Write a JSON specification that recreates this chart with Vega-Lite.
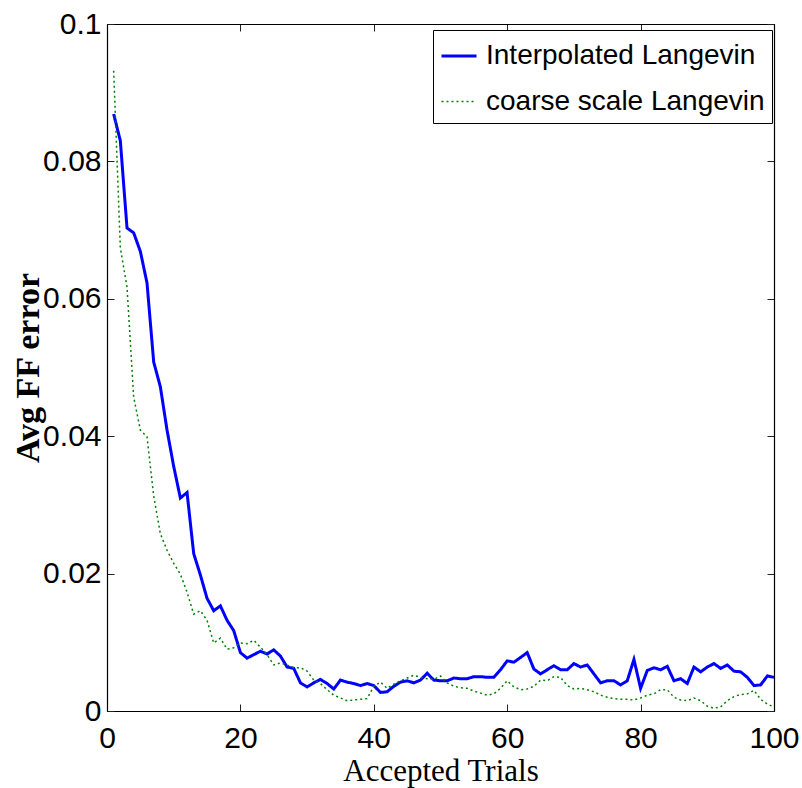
{
  "$schema": "https://vega.github.io/schema/vega-lite/v6.json",
  "width": 667,
  "height": 687,
  "autosize": {"type": "none"},
  "padding": {"left": 107, "top": 24, "right": 28, "bottom": 77},
  "background": "white",
  "config": {
    "view": {"stroke": "black", "strokeWidth": 1},
    "axis": {
      "grid": false,
      "domainColor": "black",
      "domainWidth": 1.2,
      "tickColor": "#222",
      "tickWidth": 1,
      "tickSize": -7,
      "labelFont": "Liberation Sans",
      "labelFontSize": 30,
      "labelColor": "black",
      "titleColor": "black",
      "titleFont": "Liberation Serif",
      "titleFontWeight": "normal"
    },
    "legend": {
      "title": null, "orient": "none", "legendX": 326, "legendY": 6, "symbolType": "stroke", "symbolSize": 1225,
      "labelFont": "Liberation Sans", "labelFontSize": 28, "labelColor": "black", "labelLimit": 400, "labelOffset": 8,
      "rowPadding": 13, "padding": 7, "strokeColor": "black", "fillColor": "white"
    }
  },
  "data": {
    "values": [
      {"x":1,"a":0.0869,"b":0.0932},{"x":2,"a":0.083,"b":0.0674},{"x":3,"a":0.0703,"b":0.0617},{"x":4,"a":0.0696,"b":0.0457},{"x":5,"a":0.0669,"b":0.0409},
      {"x":6,"a":0.0623,"b":0.0399},{"x":7,"a":0.0508,"b":0.0313},{"x":8,"a":0.0472,"b":0.0258},{"x":9,"a":0.0409,"b":0.0234},{"x":10,"a":0.0356,"b":0.0215},
      {"x":11,"a":0.031,"b":0.0199},{"x":12,"a":0.0318,"b":0.0173},{"x":13,"a":0.0229,"b":0.0141},{"x":14,"a":0.0198,"b":0.0146},{"x":15,"a":0.0164,"b":0.0132},
      {"x":16,"a":0.0146,"b":0.0099},{"x":17,"a":0.0153,"b":0.0106},{"x":18,"a":0.0132,"b":0.009},{"x":19,"a":0.0117,"b":0.0092},{"x":20,"a":0.0085,"b":0.0099},
      {"x":21,"a":0.0077,"b":0.0098},{"x":22,"a":0.0082,"b":0.0103},{"x":23,"a":0.0087,"b":0.0093},{"x":24,"a":0.0083,"b":0.0082},{"x":25,"a":0.0089,"b":0.0067},
      {"x":26,"a":0.008,"b":0.007},{"x":27,"a":0.0064,"b":0.0067},{"x":28,"a":0.0062,"b":0.0063},{"x":29,"a":0.0041,"b":0.0063},{"x":30,"a":0.0035,"b":0.0058},
      {"x":31,"a":0.0041,"b":0.0045},{"x":32,"a":0.0046,"b":0.004},{"x":33,"a":0.004,"b":0.0031},{"x":34,"a":0.0032,"b":0.0023},{"x":35,"a":0.0045,"b":0.0019},
      {"x":36,"a":0.0042,"b":0.0015},{"x":37,"a":0.004,"b":0.0016},{"x":38,"a":0.0037,"b":0.0017},{"x":39,"a":0.004,"b":0.0018},{"x":40,"a":0.0037,"b":0.0036},
      {"x":41,"a":0.0027,"b":0.0042},{"x":42,"a":0.0028,"b":0.0033},{"x":43,"a":0.0036,"b":0.0039},{"x":44,"a":0.0042,"b":0.0044},{"x":45,"a":0.0044,"b":0.0048},
      {"x":46,"a":0.0041,"b":0.0052},{"x":47,"a":0.0045,"b":0.0049},{"x":48,"a":0.0055,"b":0.0047},{"x":49,"a":0.0045,"b":0.0046},{"x":50,"a":0.0044,"b":0.0051},
      {"x":51,"a":0.0044,"b":0.0041},{"x":52,"a":0.0048,"b":0.0036},{"x":53,"a":0.0047,"b":0.0034},{"x":54,"a":0.0047,"b":0.0033},{"x":55,"a":0.005,"b":0.0029},
      {"x":56,"a":0.005,"b":0.0026},{"x":57,"a":0.0049,"b":0.0023},{"x":58,"a":0.0049,"b":0.0025},{"x":59,"a":0.006,"b":0.0033},{"x":60,"a":0.0073,"b":0.0044},
      {"x":61,"a":0.0071,"b":0.0035},{"x":62,"a":0.0078,"b":0.0031},{"x":63,"a":0.0085,"b":0.0032},{"x":64,"a":0.0061,"b":0.0036},{"x":65,"a":0.0054,"b":0.0045},
      {"x":66,"a":0.006,"b":0.0044},{"x":67,"a":0.0066,"b":0.005},{"x":68,"a":0.006,"b":0.0049},{"x":69,"a":0.006,"b":0.0037},{"x":70,"a":0.0069,"b":0.0032},
      {"x":71,"a":0.0064,"b":0.0033},{"x":72,"a":0.0067,"b":0.0031},{"x":73,"a":0.0054,"b":0.0028},{"x":74,"a":0.0041,"b":0.0023},{"x":75,"a":0.0044,"b":0.002},
      {"x":76,"a":0.0044,"b":0.0018},{"x":77,"a":0.0038,"b":0.0017},{"x":78,"a":0.0044,"b":0.0017},{"x":79,"a":0.0075,"b":0.0016},{"x":80,"a":0.0033,"b":0.0019},
      {"x":81,"a":0.0059,"b":0.0023},{"x":82,"a":0.0063,"b":0.0025},{"x":83,"a":0.006,"b":0.0031},{"x":84,"a":0.0065,"b":0.0031},{"x":85,"a":0.0044,"b":0.002},
      {"x":86,"a":0.0047,"b":0.0016},{"x":87,"a":0.004,"b":0.0015},{"x":88,"a":0.0064,"b":0.0019},{"x":89,"a":0.0057,"b":0.0015},{"x":90,"a":0.0064,"b":0.0007},
      {"x":91,"a":0.0069,"b":0.0004},{"x":92,"a":0.0062,"b":0.0006},{"x":93,"a":0.0067,"b":0.0015},{"x":94,"a":0.0058,"b":0.0021},{"x":95,"a":0.0057,"b":0.0024},
      {"x":96,"a":0.0049,"b":0.0025},{"x":97,"a":0.0037,"b":0.003},{"x":98,"a":0.0038,"b":0.0017},{"x":99,"a":0.0051,"b":0.001},{"x":100,"a":0.0049,"b":0.0006}
    ]
  },
  "transform": [
    {"fold": ["a", "b"], "as": ["key", "v"]},
    {"calculate": "datum.key === 'a' ? 'Interpolated Langevin' : 'coarse scale Langevin'", "as": "series"}
  ],
  "layer": [
    {
      "mark": {"type": "line", "clip": true},
      "encoding": {
        "x": {"field": "x", "type": "quantitative", "scale": {"domain": [0, 100], "nice": false},
          "axis": {"orient": "bottom", "values": [0, 20, 40, 60, 80, 100], "labelPadding": 19, "labelFlush": false,
            "title": "Accepted Trials", "titleFontSize": 31, "titleY": 60, "titleBaseline": "middle"}},
        "y": {"field": "v", "type": "quantitative", "scale": {"domain": [0, 0.1], "nice": false, "zero": false},
          "axis": {"orient": "left", "values": [0, 0.02, 0.04, 0.06, 0.08, 0.1], "format": ".2~f", "labelPadding": 13, "labelFlush": false,
            "title": "Avg FF error", "titleFontSize": 34, "titleX": -79, "titleBaseline": "middle", "titleFontWeight": "bold"}},
        "color": {"field": "series", "type": "nominal",
          "scale": {"domain": ["Interpolated Langevin", "coarse scale Langevin"], "range": ["#0000ff", "#008000"]}},
        "strokeDash": {"field": "series", "type": "nominal",
          "scale": {"domain": ["Interpolated Langevin", "coarse scale Langevin"], "range": [[1, 0], [2, 3]]}},
        "strokeWidth": {"field": "series", "type": "nominal",
          "scale": {"type": "ordinal", "domain": ["Interpolated Langevin", "coarse scale Langevin"], "range": [3, 1.5]}}
      }
    },
    {
      "transform": [{"filter": "datum.key === 'b'"}],
      "mark": {"type": "line", "strokeOpacity": 0},
      "encoding": {
        "x": {"field": "x", "type": "quantitative",
          "axis": {"orient": "top", "values": [0, 20, 40, 60, 80, 100], "labels": false, "title": null}},
        "y": {"field": "v", "type": "quantitative",
          "axis": {"orient": "right", "values": [0, 0.02, 0.04, 0.06, 0.08, 0.1], "labels": false, "title": null}}
      }
    }
  ],
  "resolve": {"axis": {"x": "independent", "y": "independent"}}
}
